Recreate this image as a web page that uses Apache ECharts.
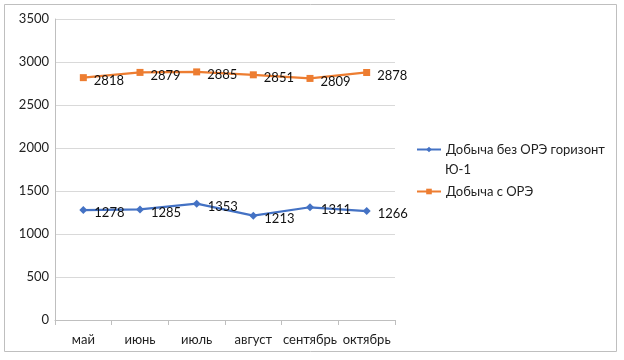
<!DOCTYPE html>
<html><head><meta charset="utf-8">
<script src="https://cdn.jsdelivr.net/npm/echarts@6/dist/echarts.min.js"></script>
<style>html,body{margin:0;padding:0;background:#fff}#c{width:624px;height:360px}</style>
</head><body><div id="c"></div>
<script>
const categories = ['май','июнь','июль','август','сентябрь','октябрь'];
const seriesNoORE = [1278,1285,1353,1213,1311,1266];
const seriesORE = [2818,2879,2885,2851,2809,2878];
const nameNoORE = 'Добыча без ОРЭ горизонт Ю-1';
const nameORE = 'Добыча с ОРЭ';
const yTicks = {min:0, max:3500, interval:500};

const font = 'Lato, "Liberation Sans", sans-serif';
const chart = echarts.init(document.getElementById('c'), null, {renderer:'canvas'});
chart.setOption({
  animation:false,
  backgroundColor:'#fff',
  textStyle:{fontFamily:font},
  graphic:[
    {type:'rect', shape:{x:4.5,y:4.5,width:612,height:347}, style:{fill:null, stroke:'#bfbfbf', lineWidth:1}, silent:true},
    {type:'text', left:445, top:163, style:{text:'Ю-1', fill:'#222', font:'13px ' + font}, silent:true}
  ],
  grid:{left:55, right:229, top:19, bottom:40},
  legend:{
    orient:'vertical', left:416, top:143, padding:0, itemWidth:24, itemHeight:7, itemGap:29,
    textStyle:{fontSize:13, color:'#222', fontFamily:font},
    formatter: n => n === nameNoORE ? 'Добыча без ОРЭ горизонт' : n,
    data:[nameNoORE, nameORE]
  },
  xAxis:{type:'category', data:categories, boundaryGap:true,
    axisLine:{lineStyle:{color:'#bfbfbf'}},
    axisTick:{show:true, length:5, lineStyle:{color:'#bfbfbf'}},
    axisLabel:{color:'#222', fontSize:13, margin:13, interval:0, fontFamily:font}},
  yAxis:{type:'value', min:yTicks.min, max:yTicks.max, interval:yTicks.interval,
    axisLine:{show:true, lineStyle:{color:'#bfbfbf'}},
    axisTick:{show:false},
    splitLine:{lineStyle:{color:'#d9d9d9'}},
    axisLabel:{color:'#222', fontSize:13, margin:6, fontFamily:font, formatter: v => String(v)}},
  series:[
    {name:nameNoORE, type:'line', data:seriesNoORE, symbol:'diamond', symbolSize:8,
     itemStyle:{color:'#4472C4'}, lineStyle:{width:2.25, color:'#4472C4'},
     label:{show:true, position:'right', distance:7, offset:[0,3], color:'#111', fontSize:13, fontFamily:font}},
    {name:nameORE, type:'line', data:seriesORE, symbol:'rect', symbolSize:7,
     itemStyle:{color:'#ED7D31'}, lineStyle:{width:2.25, color:'#ED7D31'},
     label:{show:true, position:'right', distance:7, offset:[0,3], color:'#111', fontSize:13, fontFamily:font}}
  ]
});
</script></body></html>
